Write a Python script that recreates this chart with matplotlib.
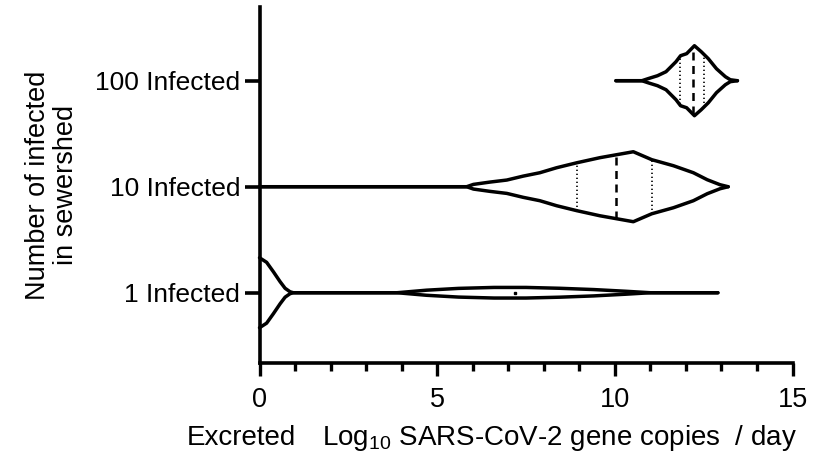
"""Violin plot of excreted SARS-CoV-2 gene copies per sewershed size."""

import numpy as np
import matplotlib
matplotlib.use("Agg")
import matplotlib.pyplot as plt
from matplotlib.ticker import MultipleLocator

plt.rcParams["font.family"] = ["Liberation Sans", "DejaVu Sans"]
plt.rcParams["mathtext.fontset"] = "custom"
plt.rcParams["mathtext.rm"] = "Liberation Sans"

# Categories, bottom to top
groups = ["1 Infected", "10 Infected", "100 Infected"]

# Violin outlines: log10 gene copies/day vs. half-width of the density
x_1 = [0, 0.2, 0.39, 0.58, 0.72, 0.86, 0.95, 3.87, 4.7, 5.6, 6.6, 7.5,
       8.45, 9.4, 10.3, 11.0, 12.9]
hw_1 = [0.33, 0.287, 0.198, 0.104, 0.042, 0.009, 0, 0, 0.024, 0.041, 0.050,
        0.050, 0.042, 0.030, 0.014, 0, 0]

x_10 = [0, 5.83, 6.02, 6.49, 6.96, 7.42, 7.89, 8.36, 8.93, 9.58, 10.05,
        10.52, 11.04, 11.65, 12.21, 12.6, 12.96, 13.19]
hw_10 = [0, 0, 0.022, 0.044, 0.063, 0.100, 0.132, 0.179, 0.226, 0.274,
         0.302, 0.330, 0.255, 0.198, 0.132, 0.066, 0.019, 0]

x_100 = [10.03, 10.76, 10.96, 11.20, 11.44, 11.72, 11.85, 12.02, 12.24,
         12.43, 12.63, 12.86, 13.11, 13.25, 13.45]
hw_100 = [0, 0, 0.022, 0.047, 0.085, 0.179, 0.236, 0.255, 0.330, 0.274,
          0.208, 0.113, 0.038, 0.009, 0]

# Quartiles (Q1, median, Q3); only the median is visible for 1 infected
quart_10 = [8.93, 10.03, 11.04]
quart_100 = [11.82, 12.2, 12.5]
median_1 = 7.2

profiles = [(x_1, hw_1), (x_10, hw_10), (x_100, hw_100)]

fig = plt.figure(figsize=(8.13, 4.54), dpi=100)
ax = fig.add_axes([0.3192, 0.2004, 0.6556, 0.7841])

for pos, (xs, hw) in enumerate(profiles):
    xs = np.asarray(xs)
    hw = np.asarray(hw)
    ax.fill_between(xs, pos - hw, pos + hw, color="white", zorder=1)
    for sign in (1, -1):
        ax.plot(xs, pos + sign * hw, color="black", lw=2.5,
                solid_joinstyle="round", solid_capstyle="round",
                clip_on=False, zorder=3)

for pos, quarts in ((1, quart_10), (2, quart_100)):
    xs, hw = profiles[pos]
    for i, q in enumerate(quarts):
        h = np.interp(q, xs, hw)
        if i == 1:
            ax.plot([q, q], [pos - h, pos + h], color="black", lw=1.8,
                    dashes=(3.2, 2.2), zorder=2)
        else:
            ax.plot([q, q], [pos - h, pos + h], color="black", lw=1.2,
                    dashes=(0.8, 1.6), zorder=2)
ax.plot([median_1], [0], marker="s", ms=1.5, color="black", zorder=2)

ax.set_xlim(0, 15)
ax.set_ylim(-0.663, 2.695)
ax.set_yticks(range(len(groups)))
ax.set_yticklabels(groups, fontsize=19)
ax.xaxis.set_major_locator(MultipleLocator(5))
ax.xaxis.set_minor_locator(MultipleLocator(1))
for lab in ax.get_xticklabels():
    lab.set_fontsize(19.5)

for side in ("top", "right"):
    ax.spines[side].set_visible(False)
for side in ("left", "bottom"):
    ax.spines[side].set_linewidth(2.6)
    ax.spines[side].set_capstyle("projecting")
ax.tick_params(axis="y", length=10.8, width=2.6, pad=3)
ax.tick_params(axis="x", which="major", length=9.4, width=2.4, pad=8)
ax.tick_params(axis="x", which="minor", length=5.8, width=2.4)

fig.text(52 / 813, 1 - 185 / 454, "Number of infected\nin sewershed",
         rotation=90, ha="center", va="center", fontsize=19.5,
         multialignment="center", linespacing=1.1)

fig.text(241 / 813, 1 - 445 / 454, "Excreted", ha="center", va="baseline",
         fontsize=20)
fig.text(322 / 813, 1 - 445 / 454,
         r"Log$_{\mathrm{10}}$ SARS-CoV-2 gene copies  / day",
         ha="left", va="baseline", fontsize=20)

fig.savefig("out.png", dpi=100)
plt.close(fig)
